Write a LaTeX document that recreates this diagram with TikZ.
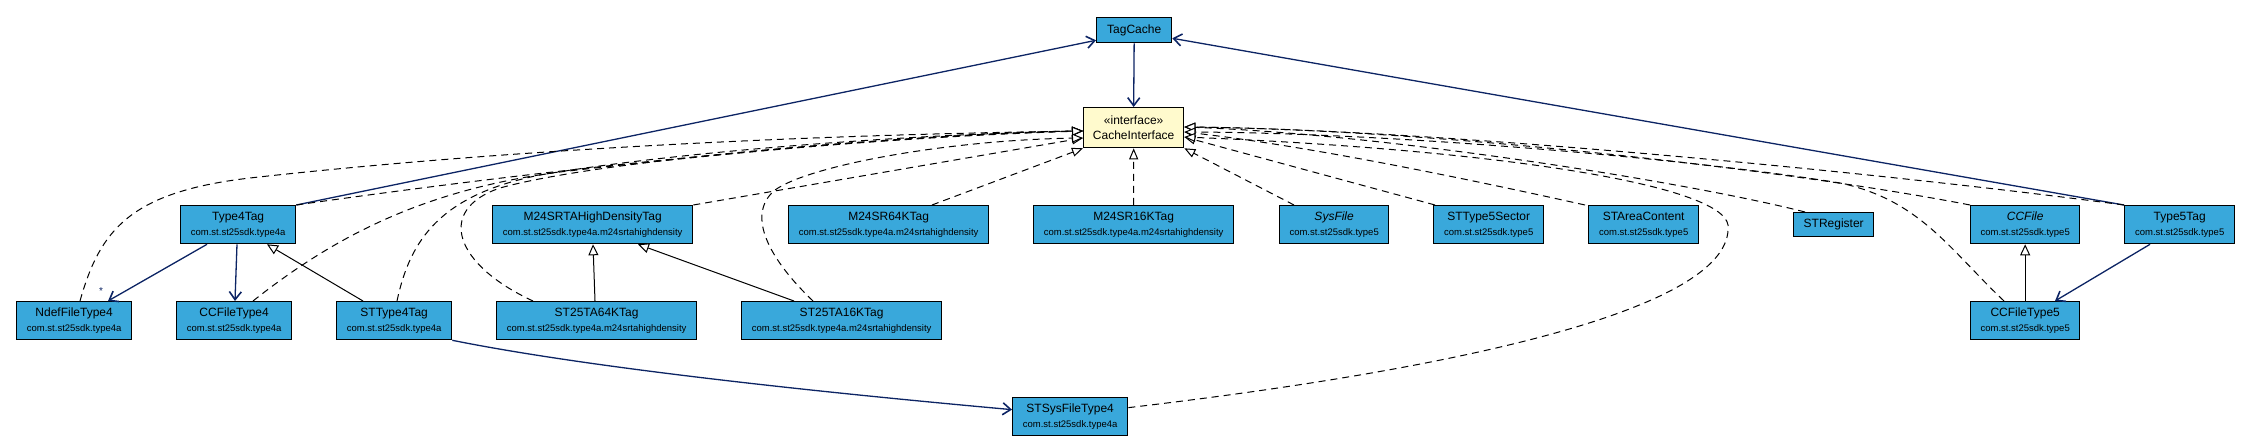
\documentclass[tikz,border=0pt]{standalone}
\usepackage{fontspec}
\setmainfont{Liberation Sans}
\usetikzlibrary{arrows.meta,calc}
\definecolor{clsblue}{RGB}{57,168,219}
\definecolor{ifyellow}{RGB}{255,250,205}
\definecolor{navy}{RGB}{12,36,100}
\newcommand{\pk}[1]{{\fontsize{9.5bp}{15bp}\selectfont #1}}
\tikzset{
  cls/.style={draw=black, line width=1.3bp, fill=clsblue, anchor=north west, inner sep=0pt,
    align=center, font=\fontsize{12bp}{15bp}\selectfont},
  iface/.style={cls, fill=ifyellow},
  assoc/.style={draw=navy, line width=1.3bp, -{Straight Barb[length=8bp,width=12bp,line width=1.6bp]}},
  gen/.style={draw=black, line width=1bp, -{Triangle[fill=white,length=11bp,width=10bp,line width=1bp]}},
  impl/.style={draw=black, line width=1bp, dash pattern=on 7bp off 5bp,
    -{Triangle[fill=white,length=11bp,width=9bp,line width=1bp]}},
}
\begin{document}
\begin{tikzpicture}[x=1bp,y=-1bp]
\useasboundingbox (0,0) rectangle (2249,445);
% nodes
\node[cls, minimum width=75bp, minimum height=25bp] (TagCache) at (1096,17) {TagCache};
\node[iface, minimum width=100bp, minimum height=40bp] (CacheInterface) at (1083,107) {«interface»\\CacheInterface};
\node[cls, minimum width=115bp, minimum height=38bp] (Type4Tag) at (180,205) {Type4Tag\\\pk{com.st.st25sdk.type4a}};
\node[cls, minimum width=200bp, minimum height=38bp] (M24SRTAHighDensityTag) at (492,205) {M24SRTAHighDensityTag\\\pk{com.st.st25sdk.type4a.m24srtahighdensity}};
\node[cls, minimum width=200bp, minimum height=38bp] (M24SR64KTag) at (788,205) {M24SR64KTag\\\pk{com.st.st25sdk.type4a.m24srtahighdensity}};
\node[cls, minimum width=200bp, minimum height=38bp] (M24SR16KTag) at (1033,205) {M24SR16KTag\\\pk{com.st.st25sdk.type4a.m24srtahighdensity}};
\node[cls, minimum width=109bp, minimum height=38bp] (SysFile) at (1279,205) {\textit{SysFile}\\\pk{com.st.st25sdk.type5}};
\node[cls, minimum width=110bp, minimum height=38bp] (STType5Sector) at (1433,205) {STType5Sector\\\pk{com.st.st25sdk.type5}};
\node[cls, minimum width=110bp, minimum height=38bp] (STAreaContent) at (1588,205) {STAreaContent\\\pk{com.st.st25sdk.type5}};
\node[cls, minimum width=80bp, minimum height=24bp] (STRegister) at (1793,212) {STRegister};
\node[cls, minimum width=109bp, minimum height=38bp] (CCFile) at (1970,205) {\textit{CCFile}\\\pk{com.st.st25sdk.type5}};
\node[cls, minimum width=110bp, minimum height=38bp] (Type5Tag) at (2124,205) {Type5Tag\\\pk{com.st.st25sdk.type5}};
\node[cls, minimum width=115bp, minimum height=38bp] (NdefFileType4) at (16,301) {NdefFileType4\\\pk{com.st.st25sdk.type4a}};
\node[cls, minimum width=115bp, minimum height=38bp] (CCFileType4) at (176,301) {CCFileType4\\\pk{com.st.st25sdk.type4a}};
\node[cls, minimum width=115bp, minimum height=38bp] (STType4Tag) at (336,301) {STType4Tag\\\pk{com.st.st25sdk.type4a}};
\node[cls, minimum width=200bp, minimum height=38bp] (ST25TA64KTag) at (496,301) {ST25TA64KTag\\\pk{com.st.st25sdk.type4a.m24srtahighdensity}};
\node[cls, minimum width=200bp, minimum height=38bp] (ST25TA16KTag) at (741,301) {ST25TA16KTag\\\pk{com.st.st25sdk.type4a.m24srtahighdensity}};
\node[cls, minimum width=109bp, minimum height=38bp] (CCFileType5) at (1970,301) {CCFileType5\\\pk{com.st.st25sdk.type5}};
\node[cls, minimum width=115bp, minimum height=38bp] (STSysFileType4) at (1012,397) {STSysFileType4\\\pk{com.st.st25sdk.type4a}};
% targets on the interface
\coordinate (L1) at ($(CacheInterface.north west)+(0,24)$);
\coordinate (L2) at ($(CacheInterface.north west)+(0,31)$);
\coordinate (R1) at ($(CacheInterface.north east)+(0,20)$);
\coordinate (R2) at ($(CacheInterface.north east)+(0,25)$);
\coordinate (R3) at ($(CacheInterface.north east)+(0,30)$);
% associations
\draw[assoc] (Type4Tag.north east) -- ($(TagCache.south west)+(0,-3)$);
\draw[assoc] (Type5Tag.north west) -- ($(TagCache.south east)+(0,-5)$);
\draw[assoc] (TagCache.south) -- (CacheInterface.north);
\draw[assoc] ($(Type4Tag.south west)+(27,0)$) -- ($(NdefFileType4.north west)+(92,0)$);
\node[text=navy, font=\fontsize{10bp}{10bp}\selectfont] (mult) at (101,291) {*};
\draw[assoc] ($(Type4Tag.south west)+(57,0)$) -- ($(CCFileType4.north west)+(59,0)$);
\draw[assoc] ($(Type5Tag.south west)+(26,0)$) -- ($(CCFileType5.north west)+(85,0)$);
\draw[assoc] (STType4Tag.south east) .. controls (600,370) and (850,395) .. ($(STSysFileType4.west)+(0,-7)$);
% generalizations
\draw[gen] ($(STType4Tag.north west)+(27,0)$) -- ($(Type4Tag.south west)+(87,0)$);
\draw[gen] ($(ST25TA64KTag.north west)+(99,0)$) -- ($(M24SRTAHighDensityTag.south west)+(101,0)$);
\draw[gen] ($(ST25TA16KTag.north west)+(53,0)$) -- ($(M24SRTAHighDensityTag.south west)+(146,0)$);
\draw[gen] (CCFileType5.north) -- (CCFile.south);
% realizations
\draw[impl] ($(NdefFileType4.north west)+(64,0)$) .. controls (100,230) and (130,192) .. (250,178) .. controls (500,150) and (800,135) .. (L1);
\draw[impl] (Type4Tag.north east) .. controls (500,176) and (800,140) .. (L1);
\draw[impl] ($(CCFileType4.north west)+(77,0)$) .. controls (330,240) and (420,190) .. (560,172) .. controls (750,150) and (950,133) .. (L1);
\draw[impl] ($(STType4Tag.north west)+(61,0)$) .. controls (410,240) and (440,195) .. (540,175) .. controls (700,148) and (950,133) .. (L1);
\draw[impl] ($(ST25TA64KTag.north west)+(37,0)$) .. controls (455,265) and (435,210) .. (500,188) .. controls (600,160) and (900,135) .. (L1);
\draw[impl] (M24SRTAHighDensityTag.north east) -- (L2);
\draw[impl] ($(ST25TA16KTag.north west)+(72,0)$) .. controls (770,260) and (745,215) .. (775,190) .. controls (810,165) and (950,140) .. (L2);
\draw[impl] ($(M24SR64KTag.north west)+(144,0)$) -- (CacheInterface.south west);
\draw[impl] (M24SR16KTag.north) -- (CacheInterface.south);
\draw[impl] ($(SysFile.north west)+(15,0)$) -- (CacheInterface.south east);
\draw[impl] ($(STType5Sector.north west)+(2,0)$) -- (R3);
\draw[impl] ($(STAreaContent.north west)+(-3,0)$) .. controls (1450,175) and (1300,145) .. (R2);
\draw[impl] ($(STRegister.north west)+(12,0)$) .. controls (1700,185) and (1400,135) .. (R1);
\draw[impl] (CCFile.north west) .. controls (1800,172) and (1450,130) .. (R1);
\draw[impl] (Type5Tag.north west) .. controls (1900,175) and (1450,130) .. (R1);
\draw[impl] ($(CCFileType5.north west)+(34,0)$) .. controls (1950,250) and (1920,200) .. (1840,183) .. controls (1700,160) and (1400,133) .. (R2);
\draw[impl] ($(STSysFileType4.east)+(0,-9)$) .. controls (1450,370) and (1735,310) .. (1728,225) .. controls (1722,185) and (1500,150) .. (R3);
\end{tikzpicture}
\end{document}
